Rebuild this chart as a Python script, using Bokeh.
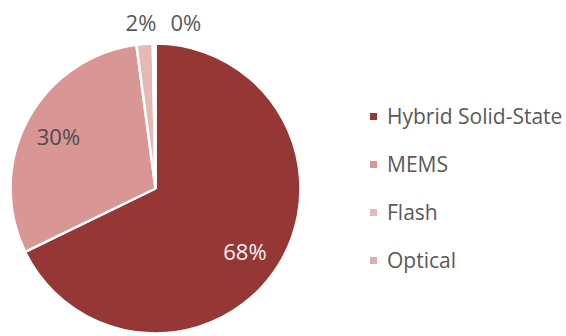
import math
from bokeh.plotting import figure
from bokeh.models import Range1d, ColumnDataSource, Legend, LegendItem
from bokeh.core.properties import value
from bokeh.embed import file_html
from bokeh.resources import INLINE

# data
categories = ["Hybrid Solid-State", "MEMS", "Flash", "Optical"]
shares = [67.8, 30.1, 1.8, 0.3]
colors = ["#953735", "#d99694", "#e6b9b8", "#ddb0af"]

# styling for labels
label_radius = [0.76, 0.76, 1.15, 1.15]
label_dx = [-4, 0, -2, 32]
label_dy = [-4, 0, 0, 0]
label_colors = ["#f2f2f2", "#4d4d4d", "#595959", "#595959"]

W, H = 566, 336
cx, cy, R = 155, H - 188, 145

total = sum(shares)
starts, ends, mids = [], [], []
acc = 0.0
for s in shares:
    a0 = math.pi / 2 - 2 * math.pi * acc / total
    acc += s
    a1 = math.pi / 2 - 2 * math.pi * acc / total
    starts.append(a0)
    ends.append(a1)
    mids.append((a0 + a1) / 2)

src = ColumnDataSource(dict(cat=categories, start=starts, end=ends, color=colors))

p = figure(width=W, height=H, output_backend="svg", toolbar_location=None,
           x_range=Range1d(0, W), y_range=Range1d(0, H), min_border=0)
p.axis.visible = False
p.grid.visible = False
p.outline_line_color = None
p.background_fill_color = "white"

r = p.wedge(x=cx, y=cy, radius=R, start_angle="start", end_angle="end",
            direction="clock", fill_color="color", line_color="white",
            line_width=2.5, source=src)

lx = [cx + R * rr * math.cos(m) + dx for rr, m, dx in zip(label_radius, mids, label_dx)]
ly = [cy + R * rr * math.sin(m) + dy for rr, m, dy in zip(label_radius, mids, label_dy)]
labels = [f"{round(s / total * 100)}%" for s in shares]
lsrc = ColumnDataSource(dict(x=lx, y=ly, t=labels, c=label_colors))
p.text(x="x", y="y", text="t", text_color="c", source=lsrc,
       text_align="center", text_baseline="middle",
       text_font=value("Open Sans"), text_font_size="22px")

items = [LegendItem(label=c, renderers=[r], index=i) for i, c in enumerate(categories)]
legend = Legend(items=items, location=(367, 62), orientation="vertical",
                border_line_color=None, background_fill_alpha=0,
                padding=0, margin=0, glyph_width=12, glyph_height=12,
                label_height=26, spacing=20, label_standoff=8,
                label_text_font="Open Sans", label_text_font_size="21px",
                label_text_color="#595959")
p.add_layout(legend, "center")

open("out.html", "w").write(file_html(p, INLINE))
